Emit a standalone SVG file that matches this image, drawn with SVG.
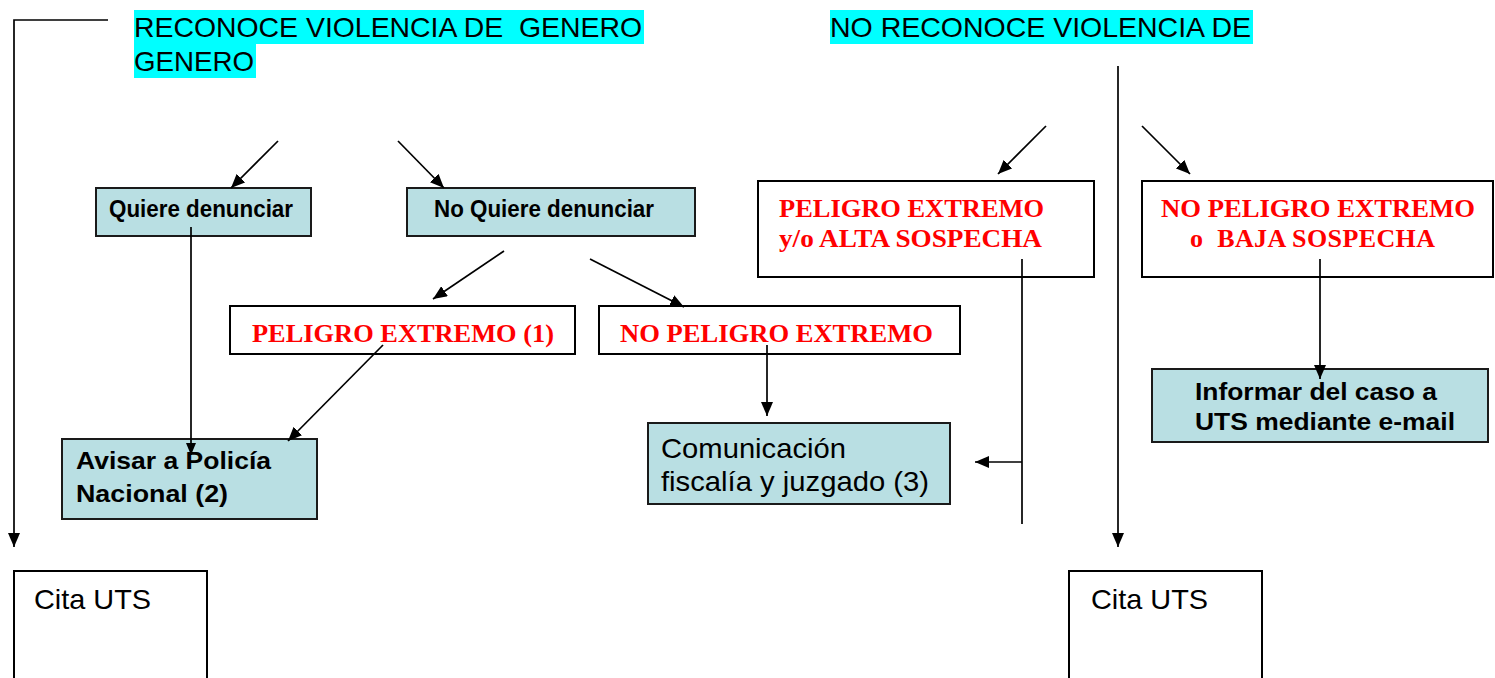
<svg xmlns="http://www.w3.org/2000/svg" width="1495" height="678" viewBox="0 0 1495 678">
<style>
.hl{fill:#00ffff}
.hd{font-family:"Liberation Sans",Arial,sans-serif;font-size:28px;fill:#000;white-space:pre}
.tb{fill:#b9dfe3;stroke:#1a1a1a;stroke-width:2}
.wb{fill:#fff;stroke:#000;stroke-width:2}
.bt{font-family:"Liberation Sans",Arial,sans-serif;font-weight:bold;font-size:24px;fill:#000}
.rt{font-family:"Liberation Serif","Times New Roman",serif;font-weight:bold;font-size:26px;fill:#ff0000;white-space:pre}
.nt{font-family:"Liberation Sans",Arial,sans-serif;font-size:28px;fill:#000}
.c{fill:none;stroke:#000;stroke-width:1.7}
</style>
<defs>
<marker id="ah" markerUnits="userSpaceOnUse" markerWidth="14" markerHeight="12" refX="14" refY="6" orient="auto">
<path d="M0,0 L14,6 L0,12 z" fill="#000"/>
</marker>
<marker id="as" markerUnits="userSpaceOnUse" markerWidth="12" markerHeight="10" refX="12" refY="5" orient="auto">
<path d="M0,0 L12,5 L0,10 z" fill="#000"/>
</marker>
</defs>
<g id="header-reconoce">
<rect class="hl" x="134" y="10" width="510" height="34"/>
<rect class="hl" x="134" y="44" width="122" height="34"/>
<text class="hd" x="134" y="37" textLength="508" lengthAdjust="spacingAndGlyphs">RECONOCE VIOLENCIA DE  GENERO</text>
<text class="hd" x="134" y="71" textLength="120" lengthAdjust="spacingAndGlyphs">GENERO</text>
</g>
<g id="header-no-reconoce">
<rect class="hl" x="830" y="10" width="423" height="34"/>
<text class="hd" x="830" y="37" textLength="421" lengthAdjust="spacingAndGlyphs">NO RECONOCE VIOLENCIA DE</text>
</g>
<g id="quiere">
<rect class="tb" x="96" y="188" width="215" height="48"/>
<text class="bt" x="109" y="217" textLength="184" lengthAdjust="spacingAndGlyphs">Quiere denunciar</text>
</g>
<g id="no-quiere">
<rect class="tb" x="407" y="188" width="288" height="48"/>
<text class="bt" x="434" y="217" textLength="220" lengthAdjust="spacingAndGlyphs">No Quiere denunciar</text>
</g>
<g id="peligro1">
<rect class="wb" x="230" y="306" width="345" height="48"/>
<text class="rt" x="252" y="342" textLength="302" lengthAdjust="spacingAndGlyphs">PELIGRO EXTREMO (1)</text>
</g>
<g id="no-peligro">
<rect class="wb" x="599" y="306" width="361" height="48"/>
<text class="rt" x="620" y="342" textLength="313" lengthAdjust="spacingAndGlyphs">NO PELIGRO EXTREMO</text>
</g>
<g id="peligro-alta">
<rect class="wb" x="758" y="181" width="336" height="96"/>
<text class="rt" x="779" y="217" textLength="265" lengthAdjust="spacingAndGlyphs">PELIGRO EXTREMO</text>
<text class="rt" x="779" y="247" textLength="263" lengthAdjust="spacingAndGlyphs">y/o ALTA SOSPECHA</text>
</g>
<g id="no-peligro-baja">
<rect class="wb" x="1142" y="181" width="351" height="96"/>
<text class="rt" x="1161" y="217" textLength="314" lengthAdjust="spacingAndGlyphs">NO PELIGRO EXTREMO</text>
<text class="rt" x="1190" y="247" textLength="245">o  BAJA SOSPECHA</text>
</g>
<g id="avisar">
<rect class="tb" x="62" y="439" width="255" height="80"/>
<text class="bt" x="76" y="469" textLength="195" lengthAdjust="spacingAndGlyphs">Avisar a Policía</text>
<text class="bt" x="76" y="502" textLength="152" lengthAdjust="spacingAndGlyphs">Nacional (2)</text>
</g>
<g id="comunicacion">
<rect class="tb" x="648" y="423" width="302" height="81"/>
<text class="nt" x="661" y="458" textLength="185" lengthAdjust="spacingAndGlyphs">Comunicación</text>
<text class="nt" x="661" y="491" textLength="268" lengthAdjust="spacingAndGlyphs">fiscalía y juzgado (3)</text>
</g>
<g id="informar">
<rect class="tb" x="1152" y="369" width="336" height="73"/>
<text class="bt" x="1195" y="400" textLength="242" lengthAdjust="spacingAndGlyphs">Informar del caso a</text>
<text class="bt" x="1195" y="430" textLength="260" lengthAdjust="spacingAndGlyphs">UTS mediante e-mail</text>
</g>
<g id="cita-uts-1">
<rect class="wb" x="14" y="571" width="193" height="120"/>
<text class="nt" x="34" y="609" textLength="117" lengthAdjust="spacingAndGlyphs">Cita UTS</text>
</g>
<g id="cita-uts-2">
<rect class="wb" x="1069" y="571" width="193" height="120"/>
<text class="nt" x="1091" y="609" textLength="117" lengthAdjust="spacingAndGlyphs">Cita UTS</text>
</g>
<g id="connectors">
<polyline class="c" points="108,20 14,20 14,547" marker-end="url(#ah)"/>
<line class="c" x1="278" y1="141" x2="231" y2="188" marker-end="url(#ah)"/>
<line class="c" x1="398" y1="141" x2="444" y2="188" marker-end="url(#ah)"/>
<line class="c" x1="504" y1="251" x2="433" y2="299" marker-end="url(#ah)"/>
<line class="c" x1="590" y1="259" x2="684" y2="307" marker-end="url(#ah)"/>
<line class="c" x1="1046" y1="126" x2="998" y2="174" marker-end="url(#ah)"/>
<line class="c" x1="1142" y1="126" x2="1190" y2="174" marker-end="url(#ah)"/>
<line class="c" x1="1118" y1="66" x2="1118" y2="547" marker-end="url(#ah)"/>
<line class="c" x1="191" y1="227" x2="191" y2="455" marker-end="url(#as)"/>
<line class="c" x1="383" y1="345" x2="288" y2="441" marker-end="url(#ah)"/>
<line class="c" x1="767" y1="345" x2="767" y2="416" marker-end="url(#ah)"/>
<line class="c" x1="1022" y1="259" x2="1022" y2="524"/>
<line class="c" x1="1022" y1="462" x2="975" y2="462" marker-end="url(#ah)"/>
<line class="c" x1="1320" y1="259" x2="1320" y2="379" marker-end="url(#ah)"/>
</g>
</svg>
